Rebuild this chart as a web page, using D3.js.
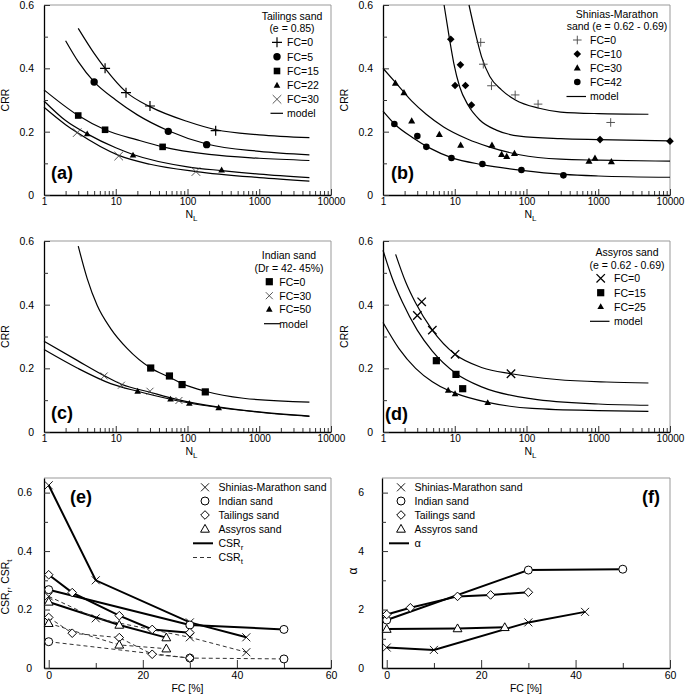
<!DOCTYPE html>
<html>
<head>
<meta charset="utf-8">
<script src="https://cdn.jsdelivr.net/npm/d3@7"></script>
<style>
  body { margin: 0; background: #fff; }
  text { font-family: 'Liberation Sans', Arial, sans-serif; fill: #000; }
</style>
</head>
<body>
<script>
// ---- (a) Tailings sand: test points [N, CRR] and model curves
const tailFC0 = [[7.1, 0.40], [13.9, 0.323], [30, 0.281], [247, 0.203]]
const tailFC5 = [[5, 0.357], [54, 0.201], [185, 0.159]]
const tailFC15 = [[3, 0.251], [7.1, 0.206], [45, 0.152]]
const tailFC22 = [[4, 0.193], [17.4, 0.126], [299, 0.079]]
const tailFC30 = [[2.9, 0.197], [11, 0.123], [131, 0.074]]
const tailModel0 = [[3, 0.526], [5, 0.447], [7.1, 0.40], [14, 0.325], [30, 0.279], [100, 0.232], [250, 0.206], [1000, 0.19], [5000, 0.181]]
const tailModel5 = [[2, 0.487], [3, 0.421], [5, 0.357], [10, 0.30], [20, 0.253], [54, 0.203], [185, 0.161], [1000, 0.138], [5000, 0.127]]
const tailModel15 = [[1, 0.332], [3, 0.251], [7.1, 0.206], [20, 0.174], [45, 0.152], [200, 0.128], [1000, 0.116], [5000, 0.109]]
const tailModel22 = [[1, 0.297], [2, 0.235], [4, 0.193], [10, 0.149], [17.4, 0.128], [100, 0.089], [300, 0.077], [1000, 0.066], [5000, 0.055]]
const tailModel30 = [[1, 0.277], [2, 0.222], [2.9, 0.197], [11, 0.125], [30, 0.097], [131, 0.074], [1000, 0.055], [5000, 0.044]]

// ---- (b) Shinias-Marathon sand
const shinFC0 = [[23, 0.482], [25, 0.413], [32.5, 0.345], [69.5, 0.316], [145, 0.287], [1490, 0.229]]
const shinFC10 = [[8.8, 0.492], [12, 0.411], [10.1, 0.346], [14.1, 0.346], [17.1, 0.284], [1059, 0.175], [10000, 0.170]]
const shinFC30 = [[1.49, 0.353], [1.96, 0.323], [2.51, 0.234], [6.1, 0.191], [12.1, 0.157], [33, 0.157], [45, 0.128], [53, 0.122], [68, 0.131], [743, 0.107], [901, 0.116], [1525, 0.105]]
const shinFC42 = [[1.44, 0.224], [3.01, 0.186], [4.02, 0.152], [9, 0.117], [24.3, 0.098], [85, 0.079], [327, 0.062]]
const shinModel0 = [[15.8, 0.60], [19.4, 0.511], [23.6, 0.437], [30.8, 0.374], [44.8, 0.332], [70, 0.30], [150, 0.274], [300, 0.262], [1000, 0.257], [5000, 0.255]]
const shinModel10 = [[7.1, 0.60], [8.5, 0.489], [9.7, 0.416], [11.7, 0.342], [15.3, 0.284], [22.3, 0.237], [38, 0.205], [80, 0.186], [300, 0.178], [1000, 0.175], [10000, 0.171]]
const shinModel30 = [[1, 0.400], [1.5, 0.355], [2.5, 0.297], [4, 0.255], [7, 0.215], [15, 0.177], [30, 0.152], [80, 0.127], [300, 0.113], [1000, 0.110], [10000, 0.107]]
const shinModel42 = [[1, 0.265], [1.5, 0.221], [2.6, 0.181], [4.5, 0.148], [9, 0.118], [24, 0.096], [86, 0.078], [330, 0.065], [1000, 0.060], [10000, 0.056]]

// ---- (c) Indian sand
const indFC0 = [[30.7, 0.201], [56, 0.176], [84, 0.149], [177, 0.126]]
const indFC30 = [[6.9, 0.176], [12, 0.147], [30, 0.128], [76, 0.099]]
const indFC50 = [[20.2, 0.128], [58, 0.103], [106, 0.090], [272, 0.076]]
const indModel0 = [[3, 0.584], [4, 0.482], [5.5, 0.398], [8.5, 0.325], [14.5, 0.262], [30.7, 0.201], [56, 0.172], [84, 0.152], [177, 0.128], [600, 0.106], [5000, 0.094]]
const indModel30 = [[1, 0.285], [2.9, 0.225], [6.9, 0.177], [12, 0.150], [30, 0.125], [76, 0.101], [260, 0.079], [1000, 0.063], [5000, 0.050]]
const indModel50 = [[1, 0.259], [2.9, 0.201], [8.5, 0.152], [20, 0.128], [58, 0.103], [106, 0.091], [272, 0.077], [1000, 0.062], [5000, 0.049]]

// ---- (d) Assyros sand
const assFC0 = [[3.46, 0.409], [3.01, 0.366], [4.87, 0.320], [10.1, 0.244], [60.8, 0.183]]
const assFC15 = [[5.54, 0.224], [10.4, 0.181], [12.9, 0.136]]
const assFC25 = [[8.1, 0.131], [10.1, 0.120], [28.8, 0.092]]
const assModel0 = [[1.5, 0.558], [2.07, 0.471], [2.85, 0.405], [4.87, 0.320], [10.1, 0.244], [24.2, 0.202], [61, 0.183], [264, 0.165], [1300, 0.157], [5000, 0.154]]
const assModel15 = [[1, 0.571], [1.35, 0.482], [1.86, 0.408], [3, 0.32], [4.87, 0.254], [10.4, 0.184], [24.2, 0.141], [120, 0.104], [1000, 0.088], [5000, 0.084]]
const assModel25 = [[1, 0.344], [1.67, 0.262], [2.85, 0.200], [4.87, 0.158], [8.1, 0.131], [10.1, 0.122], [28.8, 0.093], [120, 0.074], [1000, 0.067], [5000, 0.065]]

// ---- (e), (f) parameters against fines content
const fcShinias = [0, 10, 30, 42]
const csrRShinias = [0.625, 0.30, 0.156, 0.105]
const csrTShinias = [0.245, 0.17, 0.105, 0.054]
const alphaShinias = [0.70, 0.62, 1.56, 1.92]
const fcIndian = [0, 30, 50]
const csrRIndian = [0.268, 0.147, 0.132]
const csrTIndian = [0.090, 0.034, 0.031]
const alphaIndian = [1.64, 3.35, 3.38]
const fcTailings = [0, 5, 15, 22, 30]
const csrRTailings = [0.319, 0.258, 0.179, 0.132, 0.121]
const csrTTailings = [0.173, 0.119, 0.104, 0.047, 0.034]
const alphaTailings = [1.83, 2.06, 2.45, 2.50, 2.59]
const fcAssyros = [0, 15, 25]
const csrRAssyros = [0.226, 0.147, 0.104]
const csrTAssyros = [0.153, 0.079, 0.066]
const alphaAssyros = [1.33, 1.35, 1.39]

const sandNames = ['Shinias-Marathon sand', 'Indian sand', 'Tailings sand', 'Assyros sand']
const logTicks = [1, 10, 100, 1000, 10000]

const svg = d3.select('body').append('svg')
    .attr('width', 685)
    .attr('height', 697)

function shapePath(shape, s) {
  switch (shape) {
    case 'plus': return `M${-s},0H${s}M0,${-s}V${s}`
    case 'cross': return `M${-s},${-s}L${s},${s}M${-s},${s}L${s},${-s}`
    case 'square': return `M${-s},${-s}H${s}V${s}H${-s}Z`
    case 'tri': return `M0,${-s * 1.15}L${s * 1.1},${s * 0.8}L${-s * 1.1},${s * 0.8}Z`
    case 'diamond': return `M0,${-s}L${s},0L0,${s}L${-s},0Z`
    case 'circle': return `M${s},0A${s},${s} 0 1,1 ${-s},0A${s},${s} 0 1,1 ${s},0Z`
  }
}

function mark(g, m, cx, cy) {
  const stroked = m.shape === 'plus' || m.shape === 'cross'
  g.append('path')
      .attr('transform', `translate(${cx},${cy})`)
      .attr('d', shapePath(m.shape, m.s))
      .attr('fill', stroked ? 'none' : (m.open ? '#fff' : '#000'))
      .attr('stroke', stroked || m.open ? (m.color || '#000') : 'none')
      .attr('stroke-width', m.sw || 1)
}

function frame(g, b) {
  g.append('path')
      .attr('d', `M${b.left},${b.top}H${b.right}V${b.bottom}`)
      .attr('fill', 'none')
      .attr('stroke', '#999')
      .attr('stroke-width', 1)
}

function styleAxis(ax, size) {
  ax.select('.domain').attr('stroke', '#000').attr('stroke-width', 1.3)
  ax.selectAll('.tick line').attr('stroke', '#333')
  ax.selectAll('text')
      .attr('font-family', "'Liberation Sans', Arial, sans-serif")
      .attr('font-size', size || 10.5)
}

function yAxes(g, b, y, major, minor, fmt, pad) {
  const ax = g.append('g').attr('transform', `translate(${b.left},0)`)
      .call(d3.axisLeft(y).tickValues(major).tickFormat(fmt)
        .tickSizeInner(-6).tickSizeOuter(0).tickPadding(pad))
  styleAxis(ax)
  const mi = g.append('g').attr('transform', `translate(${b.left},0)`)
      .call(d3.axisLeft(y).tickValues(minor).tickFormat('')
        .tickSizeInner(-4).tickSizeOuter(0))
  mi.select('.domain').remove()
  mi.selectAll('.tick line').attr('stroke', '#333')
}

// ---- CRR vs N_L panel
function crrPanel(b, series, leg, tag) {
  const x = d3.scaleLog().domain([1, 10000]).range([b.left, b.right])
  const y = d3.scaleLinear().domain([0, 0.6]).range([b.bottom, b.top])
  const g = svg.append('g')
  frame(g, b)

  const axB = g.append('g').attr('transform', `translate(0,${b.bottom})`)
      .call(d3.axisBottom(x).tickValues(logTicks).tickFormat(d3.format('d'))
        .tickSizeInner(-6).tickSizeOuter(0).tickPadding(3))
  styleAxis(axB, 10)
  const minorN = x.ticks().filter(v => !logTicks.includes(v))
  const axM = g.append('g').attr('transform', `translate(0,${b.bottom})`)
      .call(d3.axisBottom(x).tickValues(minorN).tickFormat('')
        .tickSizeInner(-4).tickSizeOuter(0))
  axM.select('.domain').remove()
  axM.selectAll('.tick line').attr('stroke', '#333')

  yAxes(g, b, y, [0, 0.2, 0.4, 0.6], [0.1, 0.3, 0.5], d => d === 0 ? '0' : d3.format('.1f')(d), 10)

  const line = d3.line().x(d => x(d[0])).y(d => y(d[1])).curve(d3.curveMonotoneX)
  series.forEach(s => {
    g.append('path').datum(s.model).attr('d', line)
        .attr('fill', 'none').attr('stroke', '#000').attr('stroke-width', 1.2)
  })
  series.forEach(s => s.points.forEach(p => mark(g, s.mark, x(p[0]), y(p[1]))))

  // axis titles
  g.append('text')
      .attr('transform', `translate(${b.left - 35},${(b.top + b.bottom) / 2}) rotate(-90)`)
      .attr('text-anchor', 'middle').attr('font-size', 10.5).text('CRR')
  const nl = g.append('text')
      .attr('x', (b.left + b.right) / 2 + 4).attr('y', b.bottom + 22.5)
      .attr('text-anchor', 'middle').attr('font-size', 10.5)
  nl.append('tspan').text('N')
  nl.append('tspan').attr('font-size', 8).attr('dy', 3).text('L')

  g.append('text').attr('x', tag.x).attr('y', tag.y)
      .attr('font-size', 18).attr('font-weight', 'bold').text(tag.label)

  // legend
  leg.titles.forEach((t, i) => {
    g.append('text').attr('x', leg.titleX).attr('y', leg.titleY[i])
        .attr('text-anchor', 'middle').attr('font-size', 10.5).text(t)
  })
  series.forEach((s, i) => {
    mark(g, s.mark, leg.symX, leg.rows[i])
    g.append('text').attr('x', leg.textX).attr('y', leg.rows[i] + 3.8)
        .attr('font-size', 10.5).text(s.label)
  })
  const ry = leg.rows[series.length]
  g.append('line').attr('x1', leg.lineX[0]).attr('x2', leg.lineX[1])
      .attr('y1', ry).attr('y2', ry).attr('stroke', '#000').attr('stroke-width', 1.2)
  g.append('text').attr('x', leg.textX).attr('y', ry + 3.8)
      .attr('font-size', 10.5).text('model')
}

const light = '#444'

crrPanel({ left: 44, right: 331, top: 5, bottom: 195 }, [
  { label: 'FC=0', points: tailFC0, model: tailModel0, mark: { shape: 'plus', s: 5, sw: 1.2 } },
  { label: 'FC=5', points: tailFC5, model: tailModel5, mark: { shape: 'circle', s: 3.7 } },
  { label: 'FC=15', points: tailFC15, model: tailModel15, mark: { shape: 'square', s: 3.3 } },
  { label: 'FC=22', points: tailFC22, model: tailModel22, mark: { shape: 'tri', s: 3 } },
  { label: 'FC=30', points: tailFC30, model: tailModel30, mark: { shape: 'cross', s: 4.3, sw: 0.9, color: light } },
], { titles: ['Tailings sand', '(e = 0.85)'], titleX: 292, titleY: [19.5, 31.5], symX: 277, textX: 287,
     rows: [42.3, 56.7, 71, 85.3, 99.3, 113.3], lineX: [270.5, 283] },
   { label: '(a)', x: 51, y: 179 })

crrPanel({ left: 383, right: 670, top: 5, bottom: 195 }, [
  { label: 'FC=0', points: shinFC0, model: shinModel0, mark: { shape: 'plus', s: 4.3, sw: 0.9, color: light } },
  { label: 'FC=10', points: shinFC10, model: shinModel10, mark: { shape: 'diamond', s: 3.8 } },
  { label: 'FC=30', points: shinFC30, model: shinModel30, mark: { shape: 'tri', s: 3.2 } },
  { label: 'FC=42', points: shinFC42, model: shinModel42, mark: { shape: 'circle', s: 3.3 } },
], { titles: ['Shinias-Marathon', 'sand (e = 0.62 - 0.69)'], titleX: 617, titleY: [18, 30], symX: 577.3, textX: 590,
     rows: [40, 54, 68, 82, 96.5], lineX: [566.5, 586] },
   { label: '(b)', x: 391, y: 179 })

crrPanel({ left: 44, right: 331, top: 241, bottom: 432 }, [
  { label: 'FC=0', points: indFC0, model: indModel0, mark: { shape: 'square', s: 3.6 } },
  { label: 'FC=30', points: indFC30, model: indModel30, mark: { shape: 'cross', s: 3.5, sw: 0.9, color: light } },
  { label: 'FC=50', points: indFC50, model: indModel50, mark: { shape: 'tri', s: 3 } },
], { titles: ['Indian sand', '(Dr = 42- 45%)'], titleX: 289, titleY: [259, 271.5], symX: 269.3, textX: 279.3,
     rows: [281.7, 295.7, 309.3, 323.7], lineX: [264, 280] },
   { label: '(c)', x: 51, y: 419 })

crrPanel({ left: 383, right: 670, top: 241, bottom: 432 }, [
  { label: 'FC=0', points: assFC0, model: assModel0, mark: { shape: 'cross', s: 4.2, sw: 1.3 } },
  { label: 'FC=15', points: assFC15, model: assModel15, mark: { shape: 'square', s: 3.6 } },
  { label: 'FC=25', points: assFC25, model: assModel25, mark: { shape: 'tri', s: 3 } },
], { titles: ['Assyros sand', '(e = 0.62 - 0.69)'], titleX: 627, titleY: [256, 268.5], symX: 600.7, textX: 614,
     rows: [278.3, 292.7, 306.7, 321.3], lineX: [590, 609.5] },
   { label: '(d)', x: 385, y: 420 })

// ---- panels vs FC
const openMarks = [
  { shape: 'cross', s: 4, sw: 0.9 },
  { shape: 'circle', s: 4, open: true },
  { shape: 'diamond', s: 4.3, open: true },
  { shape: 'tri', s: 4, open: true },
]
const fcList = [fcShinias, fcIndian, fcTailings, fcAssyros]

function fcPanel(b, yMax, yMajor, yMinor, fmt, pad, lines, tag, yTitle, legX, lastLabel) {
  const x = d3.scaleLinear().domain([-1, 60]).range([b.left, b.right])
  const y = d3.scaleLinear().domain([0, yMax]).range([b.bottom, b.top])
  const g = svg.append('g')
  frame(g, b)

  const axB = g.append('g').attr('transform', `translate(0,${b.bottom})`)
      .call(d3.axisBottom(x).tickValues([0, 20, 40, 60])
        .tickSizeInner(-8).tickSizeOuter(0).tickPadding(4))
  styleAxis(axB)
  const axM = g.append('g').attr('transform', `translate(0,${b.bottom})`)
      .call(d3.axisBottom(x).tickValues([10, 30, 50]).tickFormat('')
        .tickSizeInner(-5).tickSizeOuter(0))
  axM.select('.domain').remove()
  axM.selectAll('.tick line').attr('stroke', '#333')
  yAxes(g, b, y, yMajor, yMinor, fmt, pad)

  const line = d3.line().x(d => x(d[0])).y(d => y(d[1]))
  lines.forEach(l => {
    l.sets.forEach((vals, i) => {
      g.append('path').datum(d3.zip(fcList[i], vals)).attr('d', line)
          .attr('fill', 'none').attr('stroke', l.color).attr('stroke-width', l.width)
          .attr('stroke-dasharray', l.dash)
    })
  })
  lines.forEach(l => {
    l.sets.forEach((vals, i) => {
      d3.zip(fcList[i], vals).forEach(p => mark(g, openMarks[i], x(p[0]), y(p[1])))
    })
  })

  g.append('text')
      .attr('x', (b.left + b.right) / 2).attr('y', b.bottom + 24)
      .attr('text-anchor', 'middle').attr('font-size', 10.5).text('FC [%]')
  yTitle(g, b)

  g.append('text').attr('x', tag.x).attr('y', tag.y)
      .attr('font-size', 18).attr('font-weight', 'bold').text(tag.label)

  const rows = [487.3, 501, 515, 529, 543.3, 557.5]
  sandNames.forEach((n, i) => {
    mark(g, openMarks[i], legX, rows[i])
    g.append('text').attr('x', legX + 13.5).attr('y', rows[i] + 3.8)
        .attr('font-size', 10.5).text(n)
  })
  lines.forEach((l, j) => {
    const ry = rows[4 + j]
    g.append('line').attr('x1', legX - 12).attr('x2', legX + 8)
        .attr('y1', ry).attr('y2', ry)
        .attr('stroke', l.color).attr('stroke-width', l.width).attr('stroke-dasharray', l.dash)
    lastLabel(g, legX + 13.5, ry + 3.8, j)
  })
}

function csrLabel(t, sub) {
  t.append('tspan').text('CSR')
  t.append('tspan').attr('font-size', 8).attr('dy', 3).text(sub)
}

fcPanel({ left: 44, right: 331, top: 478, bottom: 668 }, 0.65,
  [0, 0.2, 0.4, 0.6], [0.1, 0.3, 0.5], d => d === 0 ? '0' : d3.format('.1f')(d), 12,
  [
    { sets: [csrRShinias, csrRIndian, csrRTailings, csrRAssyros], color: '#000', width: 2, dash: null },
    { sets: [csrTShinias, csrTIndian, csrTTailings, csrTAssyros], color: '#333', width: 1, dash: '4,3' },
  ],
  { label: '(e)', x: 70, y: 503 },
  (g, b) => {
    const t = g.append('text')
        .attr('transform', `translate(${b.left - 35.5},${(b.top + b.bottom) / 2 + 14}) rotate(-90)`)
        .attr('text-anchor', 'middle').attr('font-size', 10.5)
    csrLabel(t, 'r')
    t.append('tspan').attr('dy', -3).text(', ')
    csrLabel(t, 't')
  },
  205,
  (g, lx, ly, j) => {
    const t = g.append('text').attr('x', lx).attr('y', ly).attr('font-size', 10.5)
    csrLabel(t, j === 0 ? 'r' : 't')
  })

fcPanel({ left: 382, right: 670, top: 478, bottom: 668 }, 6.5,
  [0, 2, 4, 6], [1, 3, 5], d3.format('d'), 18,
  [
    { sets: [alphaShinias, alphaIndian, alphaTailings, alphaAssyros], color: '#000', width: 2, dash: null },
  ],
  { label: '(f)', x: 642, y: 503 },
  (g, b) => {
    g.append('text')
        .attr('transform', `translate(${b.left - 25},${(b.top + b.bottom) / 2 - 2}) rotate(-90)`)
        .attr('text-anchor', 'middle').attr('font-size', 12)
        .attr('font-family', "'Liberation Serif', 'DejaVu Serif', serif").text('α')
  },
  401,
  (g, lx, ly) => {
    g.append('text').attr('x', lx).attr('y', ly).attr('font-size', 11)
        .attr('font-family', "'Liberation Serif', 'DejaVu Serif', serif").text('α')
  })
</script>
</body>
</html>
